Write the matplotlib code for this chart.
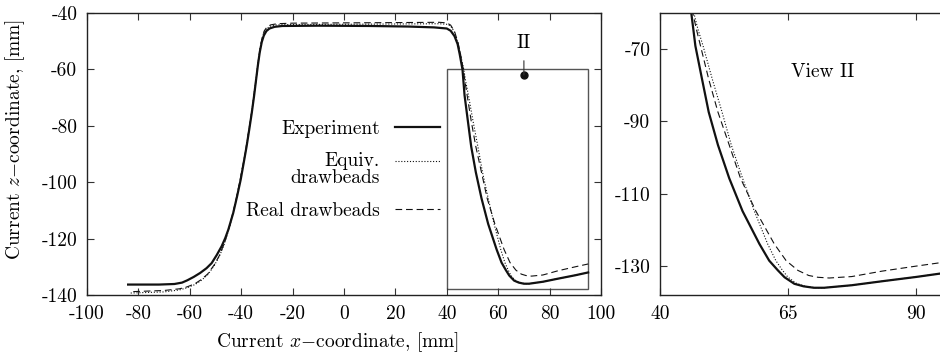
import matplotlib
matplotlib.use("Agg")
import matplotlib.pyplot as plt
from matplotlib.patches import Rectangle
from matplotlib.legend_handler import HandlerLine2D

plt.rcParams['font.family'] = ['cmr10', 'DejaVu Serif']
plt.rcParams['mathtext.fontset'] = 'cm'
plt.rcParams['axes.formatter.use_mathtext'] = True
plt.rcParams['axes.unicode_minus'] = False

# ---------------- data ----------------
exp_x = [-84, -72, -66, -63, -61, -58.5, -56, -53.5, -51.5, -49.5, -47.6, -46.2, -45, -43.1,
         -41.6, -40.2, -39, -37.9, -36.9, -35.9, -35, -34.2, -33.5, -32.8, -32, -31.2, -30.2,
         -29, -27, -24, -10, 10, 25, 35, 40, 41.5, 43, 44.2, 45, 45.6, 46.1, 46.5, 46.9, 48.2,
         49.5, 51.3, 53.5, 56.1, 59.4, 61.3, 63.0, 64.3, 66.2, 68, 70, 72, 77.4, 83.3, 90, 95]
exp_z = [-136.3, -136.3, -136.1, -135.6, -134.8, -133.6, -132.2, -130.5, -128.7, -125.8,
         -122.7, -119.8, -116.8, -110.9, -105, -99.1, -93, -87.3, -81.5, -75.5, -69.5, -63.6,
         -58.5, -54, -50.3, -48, -46.4, -45.5, -44.9, -44.6, -44.5, -44.6, -44.8, -45.1, -45.5,
         -46.3, -48.2, -51, -54.5, -57.5, -60, -64.5, -69.1, -78.3, -87.4, -96.5, -105.7,
         -114.8, -123.9, -128.5, -131.2, -133.1, -134.9, -135.6, -136, -136, -135.3, -134.2,
         -133, -132]

real_x = [-82, -70, -64, -61, -58, -55.5, -53, -50.5, -48.5, -46.5, -44.5, -42.2, -40.6, -38.5,
          -37.1, -35.9, -34.2, -33.4, -32.6, -31.8, -31, -30, -28.5, -26, -20, 0, 20, 37, 40,
          41.5, 43, 44.2, 45.2, 45.9, 46.4, 47.1, 47.9, 49.5, 51.3, 53.5, 55.7, 58.7, 62.3,
          64.6, 66.9, 69, 70.8, 73, 77.4, 83.3, 90, 95]
real_z = [-138.8, -138.4, -137.8, -137.1, -136, -134.5, -132.5, -129.3, -126, -121.5, -115.5,
          -107, -100, -90, -82, -75, -63.6, -57.5, -52.5, -48.5, -46.3, -45, -44.2, -43.8,
          -43.6, -43.5, -43.4, -43.3, -43.5, -44.3, -46.5, -50, -54, -57.5, -60, -64.5, -69.1,
          -78.3, -87.4, -96.5, -105.7, -114.8, -123.9, -128.5, -131.2, -132.6, -133.1, -133.3,
          -132.9, -131.4, -130, -129]

equiv_x = [-83, -70, -64, -61, -58, -55.5, -53, -50.5, -48.5, -46.5, -44.5, -42.2, -40.6, -38.5,
           -37.1, -35.9, -34.3, -33.5, -32.7, -31.9, -31.1, -30, -28.5, -26, -20, 0, 20, 37, 40,
           41.5, 43, 44.3, 45.3, 46.0, 46.6, 47.4, 48.4, 50.2, 52.1, 53.9, 56.1, 58.4, 61.0,
           62.6, 63.8, 64.9, 66.5, 68.3, 70.5, 72, 77.4, 83.3, 90, 95]
equiv_z = [-139.3, -138.9, -138.2, -137.4, -136.3, -134.8, -132.8, -129.6, -126.3, -121.8,
           -115.8, -107.3, -100.2, -90.2, -82.2, -75.2, -63.8, -57.8, -52.8, -49, -46.8, -45.5,
           -44.6, -44.2, -44.1, -44, -43.9, -43.8, -44, -44.6, -46.8, -50.5, -54.5, -57.5, -60,
           -64.5, -69.1, -78.3, -87.4, -96.5, -105.7, -114.8, -123.9, -128.5, -131, -133,
           -134.7, -135.6, -136, -136, -135.3, -134.2, -133, -132]

labels = ["Experiment", "Equiv.\ndrawbeads", "Real drawbeads"]

main_xticks = [-100, -80, -60, -40, -20, 0, 20, 40, 60, 80, 100]
main_yticks = [-140, -120, -100, -80, -60, -40]
view_xticks = [40, 65, 90]
view_yticks = [-130, -110, -90, -70]
view_xlim = (40, 95)
view_ylim = (-138, -60)
marker_pt = (70, -62)


class ShiftedLineHandler(HandlerLine2D):
    """Line handle raised to the first line of a two-line label."""
    def __init__(self, dy, **kw):
        super().__init__(**kw)
        self.dy = dy

    def create_artists(self, legend, orig_handle, xdescent, ydescent, width, height,
                       fontsize, trans):
        arts = super().create_artists(legend, orig_handle, xdescent, ydescent, width,
                                      height, fontsize, trans)
        for a in arts:
            if hasattr(a, 'get_ydata'):
                a.set_ydata([y + self.dy for y in a.get_ydata()])
        return arts


# ---------------- figure ----------------
W, H = 940, 359
fig = plt.figure(figsize=(W / 100, H / 100), dpi=100)
ax = fig.add_axes([87 / W, (H - 295) / H, 514 / W, 282 / H])
ax2 = fig.add_axes([660 / W, (H - 295) / H, 282 / W, 282 / H])

fs = 14
styles = [dict(color='#111111', lw=1.6, ls='-'),
          dict(color='#111111', lw=0.8, ls=(0, (1, 1.6))),
          dict(color='#111111', lw=0.8, ls=(0, (6, 3.5)))]
series = [(exp_x, exp_z), (equiv_x, equiv_z), (real_x, real_z)]

handles = []
for (xs, zs), st, lab in zip(series, styles, labels):
    h, = ax.plot(xs, zs, label=lab, **st)
    handles.append(h)
for (xs, zs), st in zip(series[::-1], styles[::-1]):
    ax2.plot(xs, zs, **st)

# main axes formatting
ax.set_xlim(-100, 100)
ax.set_ylim(-140, -40)
ax.set_xticks(main_xticks)
ax.set_xticklabels([str(v) for v in main_xticks])
ax.set_yticks(main_yticks)
ax.set_yticklabels([str(v) for v in main_yticks])
ax.tick_params(direction='in', length=5, width=0.8, top=True, right=True,
               labelsize=fs, pad=7, color='#333333')
for sp in ax.spines.values():
    sp.set_linewidth(1.0)
    sp.set_color('#222222')
ax.set_xlabel(r"Current $x{-}$coordinate, [mm]", fontsize=fs)
ax.xaxis.set_label_coords(0.487, -0.125)
ax.set_ylabel(r"Current $z{-}$coordinate, [mm]", fontsize=fs)
ax.yaxis.set_label_coords(-0.117, 0.55)

# inset rectangle
ax.add_patch(Rectangle((view_xlim[0], view_ylim[0]), view_xlim[1] - view_xlim[0],
                       view_ylim[1] - view_ylim[0], fill=False, ec='#555555', lw=1.0))
ax.plot([marker_pt[0]], [marker_pt[1]], 'o', color='#111111', ms=5)
ax.annotate("II", xy=marker_pt, xytext=(marker_pt[0], -50.8), ha='center', va='center',
            fontsize=fs, arrowprops=dict(arrowstyle='-', color='#333333', lw=0.8,
                                         shrinkA=4, shrinkB=0))

leg = ax.legend(handles=handles, loc='upper right', bbox_to_anchor=(0.687, 0.622),
                frameon=False, markerfirst=False, fontsize=fs, handlelength=2.3,
                handletextpad=0.8, labelspacing=0.75, borderpad=0, borderaxespad=0,
                handler_map={handles[1]: ShiftedLineHandler(6.5)})
for t in leg.get_texts():
    t.set_multialignment('right')
    t.set_linespacing(0.95)

# view II axes
ax2.set_xlim(*view_xlim)
ax2.set_ylim(*view_ylim)
ax2.set_xticks(view_xticks)
ax2.set_xticklabels([str(v) for v in view_xticks])
ax2.set_yticks(view_yticks)
ax2.set_yticklabels([str(v) for v in view_yticks])
ax2.tick_params(direction='in', length=5, width=0.8, top=True, right=False,
                labelsize=fs, pad=7, color='#333333')
for sp in ax2.spines.values():
    sp.set_linewidth(1.0)
    sp.set_color('#222222')
ax2.spines['right'].set_visible(False)
ax2.text(71.8, -76.4, "View II", ha='center', va='center', fontsize=fs)

fig.savefig("out.png", dpi=100)
